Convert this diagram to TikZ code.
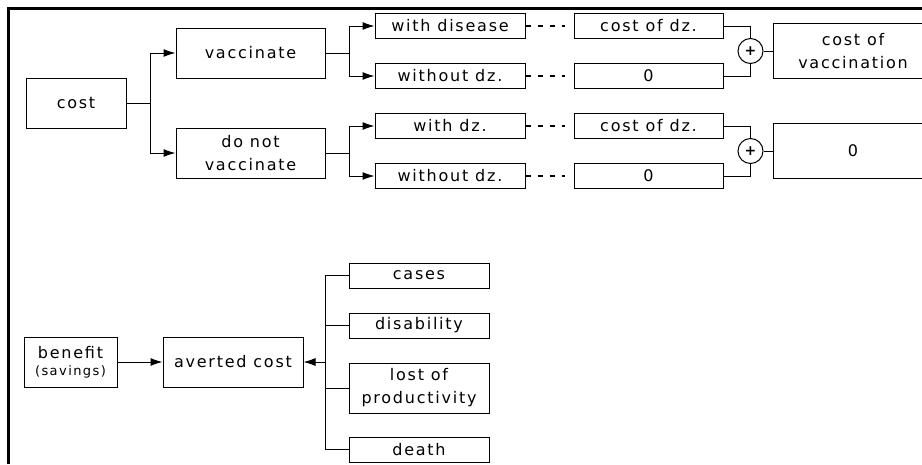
\documentclass[tikz,border=0pt]{standalone}
\usepackage{fontspec}
\setmainfont{DejaVu Sans}[LetterSpace=11]
\usetikzlibrary{positioning,arrows.meta}

\begin{document}
\begin{tikzpicture}[x=1pt,y=-1pt,on grid,line width=1pt,
      font=\fontsize{16}{23}\selectfont,
      box/.style={draw,inner sep=0pt,align=center,minimum height=25pt},
      big/.style={box,minimum height=50pt},
      arr/.style={-{Latex[length=12pt,width=8pt]}},
      dots/.style={line width=2pt,dash pattern=on 5pt off 7pt,shorten >=9pt},
      plus/.style={draw,circle,minimum size=25pt,inner sep=0pt,
                   font=\bfseries\fontsize{14}{14}\selectfont}]
   \useasboundingbox (0,0) rectangle (922,464);
   \clip (0,0) rectangle (922,464);
   \draw[line width=3pt] (8,464) -- (8,8) -- (922,8);

   % cost tree
   \node[big,minimum width=100pt] (cost) at (76,103) {cost};
   \node[big,minimum width=149pt] (vac)  [above right=50pt and 174.5pt of cost] {vaccinate};
   \node[big,minimum width=149pt] (nvac) [below right=50pt and 174.5pt of cost] {do not\\vaccinate};
   \node[box,minimum width=150pt] (dz_1) [above right=27pt and 199.5pt of vac]  {with disease};
   \node[box,minimum width=150pt] (dz_2) [below=50pt of dz_1] {without dz.};
   \node[box,minimum width=150pt] (dz_3) [above right=27pt and 199.5pt of nvac] {with dz.};
   \node[box,minimum width=150pt] (dz_4) [below=50pt of dz_3] {without dz.};
   \node[box,minimum width=149pt] (c_1) [right=198.5pt of dz_1] {cost of dz.};
   \node[box,minimum width=149pt] (c_2) [right=198.5pt of dz_2] {0};
   \node[box,minimum width=149pt] (c_3) [right=198.5pt of dz_3] {cost of dz.};
   \node[box,minimum width=149pt] (c_4) [right=198.5pt of dz_4] {0};
   \node[plus] (sum_1) [below right=25pt and 102pt of c_1] {+};
   \node[plus] (sum_2) [below right=25pt and 102pt of c_3] {+};
   \node[box,minimum width=160pt,minimum height=55pt] (r_1) [right=102.5pt of sum_1] {cost of\\vaccination};
   \node[box,minimum width=160pt,minimum height=55pt] (r_2) [right=102.5pt of sum_2] {0};

   \draw[arr] (cost.east) -- ++(24pt,0) |- (vac);
   \draw[arr] (cost.east) -- ++(24pt,0) |- (nvac);
   \draw[arr] (vac.east) -- ++(24pt,0) |- (dz_1);
   \draw[arr] (vac.east) -- ++(24pt,0) |- (dz_2);
   \draw[arr] (nvac.east) -- ++(24pt,0) |- (dz_3);
   \draw[arr] (nvac.east) -- ++(24pt,0) |- (dz_4);
   \draw[dots] (dz_1) -- (c_1);
   \draw[dots] (dz_2) -- (c_2);
   \draw[dots] (dz_3) -- (c_3);
   \draw[dots] (dz_4) -- (c_4);
   \draw (c_1) -| (sum_1);
   \draw (c_2) -| (sum_1);
   \draw (c_3) -| (sum_2);
   \draw (c_4) -| (sum_2);
   \draw (sum_1) -- (r_1);
   \draw (sum_2) -- (r_2);

   % benefit tree
   \node[big,minimum width=93pt,font=\fontsize{16}{17}\selectfont] (ben) at (70.5,362)
      {benefit\\{\fontsize{13}{15}\selectfont(savings)}};
   \node[big,minimum width=140pt] (avc) [right=162.5pt of ben] {averted cost};
   \node[box,minimum width=140pt] (k_1) [above right=86.5pt and 186pt of avc] {cases};
   \node[box,minimum width=140pt] (k_2) [below=50pt of k_1] {disability};
   \node[big,minimum width=140pt] (k_3) [below=62.5pt of k_2] {lost of\\productivity};
   \node[box,minimum width=140pt] (k_4) [below=61.5pt of k_3] {death};

   \draw[arr] (ben) -- (avc);
   \draw[arr] (k_1.west) -- ++(-23pt,0) |- (avc);
   \draw (k_1.west) -- ++(-23pt,0) |- (k_4);
   \draw (k_2.west) -- ++(-23pt,0);
   \draw (k_3.west) -- ++(-23pt,0);
\end{tikzpicture}
\end{document}
